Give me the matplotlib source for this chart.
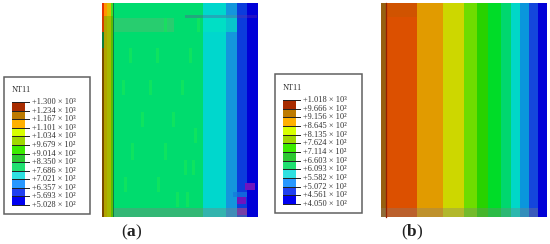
import numpy as np
import matplotlib
matplotlib.use('Agg')
import matplotlib.pyplot as plt
from matplotlib.colors import ListedColormap
from matplotlib.patches import Rectangle

plt.rcParams['font.family'] = ['Liberation Serif', 'DejaVu Serif']
plt.rcParams['mathtext.fontset'] = 'custom'
plt.rcParams['mathtext.rm'] = 'Liberation Serif'
plt.rcParams['mathtext.bf'] = 'Liberation Serif:bold'

# NT11 contour levels (mantissa, exponent)
levels_a = [('1.300', '³'), ('1.234', '³'), ('1.167', '³'), ('1.101', '³'), ('1.034', '³'), ('9.679', '²'),
            ('9.014', '²'), ('8.350', '²'), ('7.686', '²'), ('7.021', '²'), ('6.357', '²'), ('5.693', '²'),
            ('5.028', '²')]
levels_b = [('1.018', '³'), ('9.666', '²'), ('9.156', '²'), ('8.645', '²'), ('8.135', '²'), ('7.624', '²'),
            ('7.114', '²'), ('6.603', '²'), ('6.093', '²'), ('5.582', '²'), ('5.072', '²'), ('4.561', '²'),
            ('4.050', '²')]

legend_colors = ['#a82c00', '#bd7a00', '#ffb000', '#d8ff00', '#a0d800', '#3cec00', '#2cc832',
                 '#20e070', '#30e0e0', '#2898ff', '#2040f0', '#0000f0']

# band edges across each plate
edges_a = [101.7, 104, 106.7, 110.7, 112.7, 114, 203.3, 226, 237.3, 247, 257.7]
colors_a = ['#7a4a00', '#b0a400', '#a8b800', '#5cbc00', '#107a48', '#00dc6e', '#00d7cd', '#1496dc', '#0c3cdc', '#0000d7']
edges_b = [381, 386.7, 417.3, 443.3, 464, 477.3, 488.3, 500.7, 510.7, 520, 528.7, 537.7, 546.7]
colors_b = ['#966010', '#dc5000', '#e19b00', '#cdd700', '#6edc00', '#28d200', '#00dc28', '#00d76e', '#00d7c8',
            '#0a96dc', '#1446dc', '#0000d7']

# short lighter streaks in plate (a): x, top, bottom
streaks_a = [(130, 48, 63), (157, 48, 63), (190, 48, 63), (123, 80, 95), (150, 80, 95), (182, 80, 95),
             (142, 112, 127), (173, 112, 127), (132, 143, 160), (165, 143, 160), (195, 128, 143),
             (125, 177, 192), (158, 177, 192), (185, 160, 175), (193, 160, 175), (177, 192, 207),
             (187, 192, 207), (165, 18, 32), (198, 18, 32)]
hot_spots_a = [(245, 183, 255, 190), (236.5, 197, 246, 204), (236.5, 207.5, 246.5, 215)]

Y_TOP = 2.7
Y_BOT = 217.0


def draw_plate(ax, edges, colors):
    cmap = ListedColormap(colors)
    values = np.arange(len(colors))[None, :]
    ax.pcolormesh(edges, [Y_TOP, Y_BOT], values, cmap=cmap, vmin=-0.5, vmax=len(colors) - 0.5, zorder=1)


def draw_legend(ax, x0, y0, x1, y1, bar_x, bar_top, bar_bot, title_y, levels, text_x):
    ax.add_patch(Rectangle((x0, y0), x1 - x0, y1 - y0, fc='white', ec='#606060', lw=1.1, zorder=3))
    ax.text(bar_x - 0.5, title_y, 'NT11', fontsize=6.0, color='#303030', va='center', ha='left', zorder=4)
    ticks = np.linspace(bar_top, bar_bot, len(levels))
    ax.pcolormesh([bar_x, bar_x + 12.5], ticks, np.arange(len(levels) - 1)[:, None],
                  cmap=ListedColormap(legend_colors), vmin=-0.5, vmax=len(legend_colors) - 0.5, zorder=4)
    for tick, (mant, exp) in zip(ticks, levels):
        ax.plot([bar_x, bar_x + 17], [tick, tick], color='#202020', lw=0.7, zorder=5)
        ax.text(text_x, tick, f'+{mant} × 10{exp}', fontsize=6.0, color='#303030',
                va='center', ha='left', zorder=5)


fig = plt.figure(figsize=(5.5, 2.44), dpi=100)
ax = fig.add_axes([0, 0, 1, 1])
ax.set_xlim(0, 550)
ax.set_ylim(244, 0)
ax.axis('off')

# plate (a)
draw_plate(ax, edges_a, colors_a)
ax.add_patch(Rectangle((101.7, Y_TOP), 2.3, 13, fc='#e63200', zorder=2))
ax.add_patch(Rectangle((104, Y_TOP), 2.7, 13, fc='#ff9600', zorder=2))
ax.add_patch(Rectangle((106.7, Y_TOP), 4, 13, fc='#dcbe00', zorder=2))
ax.add_patch(Rectangle((110.7, Y_TOP), 2, 13, fc='#46dc1e', zorder=2))
ax.add_patch(Rectangle((101.7, 15.7), 2.3, 16, fc='#d23c00', zorder=2))
ax.add_patch(Rectangle((101.7, 31.7), 2.3, 16, fc='#107a38', zorder=2))
ax.add_patch(Rectangle((114, 18), 60, 14, fc='#50c070', alpha=0.5, zorder=2))
ax.add_patch(Rectangle((203.3, 15), 33.7, 17, fc='#00e6c0', alpha=0.6, zorder=2))
ax.add_patch(Rectangle((185, 15), 72, 3.2, fc='#7030a0', alpha=0.3, zorder=2))
for sx, st, sb in streaks_a:
    ax.add_patch(Rectangle((sx - 1, st), 2.5, sb - st, fc='#14e65a', alpha=0.7, zorder=2))
for hx0, hy0, hx1, hy1 in hot_spots_a:
    ax.add_patch(Rectangle((hx0, hy0), hx1 - hx0, hy1 - hy0, fc='#6e14be', zorder=2))
ax.add_patch(Rectangle((233, 191.5), 14, 5, fc='#1478dc', alpha=0.7, zorder=2))
ax.add_patch(Rectangle((114, 208), 133, 9, fc='#808080', alpha=0.4, zorder=2))

# plate (b)
draw_plate(ax, edges_b, colors_b)
ax.add_patch(Rectangle((386.7, Y_TOP), 30.6, 14, fc='#a06000', alpha=0.2, zorder=2))
ax.plot([386.3, 386.3], [Y_TOP, Y_BOT], color='#962000', lw=0.9, zorder=3)
ax.add_patch(Rectangle((381, 208), 156.7, 9, fc='#808080', alpha=0.35, zorder=2))

draw_legend(ax, 4, 77, 90, 214, 12, 102, 205, 90, levels_a, 32)
draw_legend(ax, 275, 74, 362, 213, 283, 100, 204, 88, levels_b, 303)

ax.text(132, 232, r'($\mathbf{a}$)', fontsize=12.5, color='#202020', ha='center', va='center')
ax.text(412, 232, r'($\mathbf{b}$)', fontsize=12.5, color='#202020', ha='center', va='center')

fig.savefig('out.png', dpi=100)
